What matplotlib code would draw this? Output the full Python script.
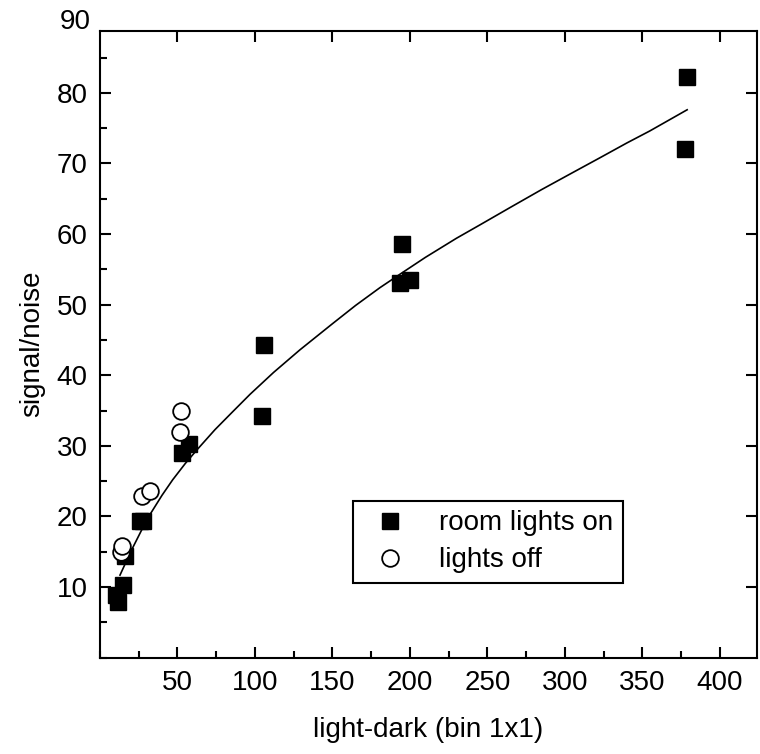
import numpy as np
import matplotlib.pyplot as plt
from matplotlib.ticker import MultipleLocator

plt.rcParams['font.family'] = ['Liberation Sans', 'DejaVu Sans']

# room lights on (filled squares)
on_x = [10.3, 11.8, 14.8, 16.0, 25.5, 28.0, 52.8, 57.2, 104.5, 105.6,
        193.8, 194.8, 200.0, 377.7, 378.8]
on_y = [8.9, 7.9, 10.3, 14.4, 19.3, 19.3, 29.0, 30.2, 34.3, 44.3,
        53.0, 58.6, 53.5, 72.0, 82.2]

# lights off (open circles)
off_x = [13.5, 14.0, 26.8, 32.0, 51.9, 52.0]
off_y = [15.0, 15.8, 22.9, 23.6, 32.0, 34.9]

# fitted curve
fit_x = [12.9, 20.0, 26.9, 32.3, 40.0, 46.9, 55.0, 62.4, 74.2, 85.0,
         96.8, 112.0, 129.0, 150.0, 165.0, 180.6, 193.5, 210.0, 230.0,
         245.2, 265.0, 285.0, 305.0, 322.6, 340.0, 354.8, 378.9]
fit_y = [11.7, 15.1, 18.1, 20.3, 23.0, 25.2, 27.5, 29.4, 32.3, 34.7,
         37.3, 40.4, 43.6, 47.3, 49.9, 52.4, 54.3, 56.7, 59.4,
         61.3, 63.8, 66.3, 68.7, 70.8, 72.9, 74.6, 77.6]

fig = plt.figure(figsize=(7.6, 7.54), dpi=100)
ax = fig.add_axes([0.1316, 0.1277, 0.8645, 0.8316])

ax.plot(fit_x, fit_y, color='black', lw=1.2, zorder=2)
ax.plot(on_x, on_y, 's', color='black', ms=12, mec='black', ls='none',
        label='room lights on', zorder=3)
ax.plot(off_x, off_y, 'o', mfc='white', mec='black', mew=1.3, ms=12,
        ls='none', label='lights off', zorder=3)

xmin = 0; xmax = 424
ymin = 0; ymax = 88.8
ax.set_xlim(xmin, xmax)
ax.set_ylim(ymin, ymax)

ax.xaxis.set_major_locator(MultipleLocator(50))
ax.xaxis.set_minor_locator(MultipleLocator(25))
ax.yaxis.set_major_locator(MultipleLocator(10))
ax.yaxis.set_minor_locator(MultipleLocator(5))

ax.tick_params(which='both', direction='in', top=True, right=True,
               labelsize=20, width=1.5, pad=9)
ax.tick_params(which='major', length=8)
ax.tick_params(which='minor', length=5, top=False, right=False)

ax.set_xticks([50, 100, 150, 200, 250, 300, 350, 400])
ax.set_yticks([10, 20, 30, 40, 50, 60, 70, 80])
# the 90 label sits just above the frame
ax.text(-9 / 657, 90, '90', transform=ax.get_yaxis_transform(),
        ha='right', va='center', fontsize=20, clip_on=False)

for s in ax.spines.values():
    s.set_linewidth(1.5)

ax.set_xlabel('light-dark (bin 1x1)', fontsize=20, labelpad=15)
ax.set_ylabel('signal/noise', fontsize=20, labelpad=8)

leg = ax.legend(loc='lower left', bbox_to_anchor=(0.385, 0.119),
                fontsize=20, frameon=True, fancybox=False, framealpha=1,
                edgecolor='black', borderaxespad=0, handletextpad=0.75,
                labelspacing=0.4, borderpad=0.35)
leg.get_frame().set_linewidth(1.5)

fig.savefig('out.png', dpi=100)
